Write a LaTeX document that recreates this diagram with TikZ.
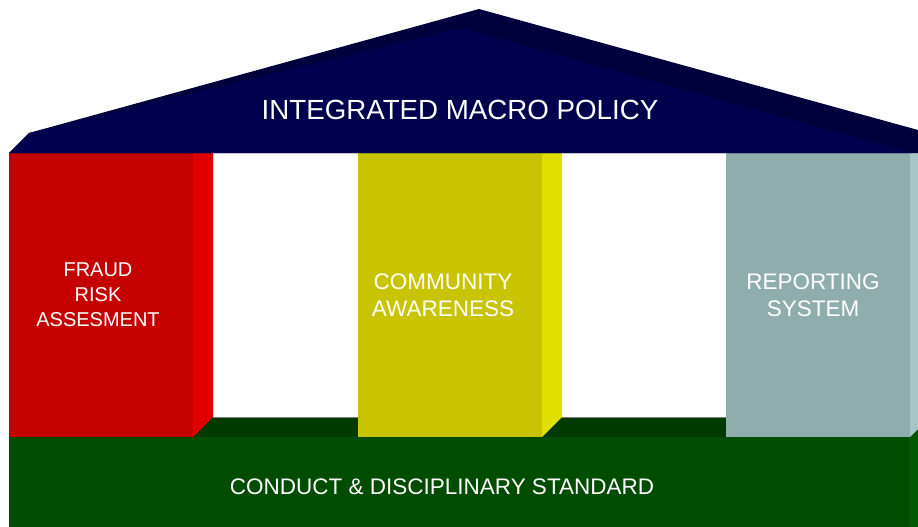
\documentclass[tikz,border=0pt]{standalone}
\usepackage{fontspec}
\setmainfont{Liberation Sans}
\definecolor{roofdark}{HTML}{00003C}
\definecolor{roofface}{HTML}{00004E}
\definecolor{redface}{HTML}{C40000}
\definecolor{redside}{HTML}{E00000}
\definecolor{yelface}{HTML}{C8C400}
\definecolor{yelside}{HTML}{E0E000}
\definecolor{grayface}{HTML}{8FADAD}
\definecolor{grayside}{HTML}{A8C6C8}
\definecolor{grnface}{HTML}{004C00}
\definecolor{grntop}{HTML}{003A00}
\definecolor{grnside}{HTML}{005800}
\tikzset{
  lbl/.style={text=white, align=center, inner sep=0pt, font=\fontsize{20}{25}\selectfont},
}
\begin{document}
\begin{tikzpicture}[x=1pt,y=-1pt]
\useasboundingbox (0,0) rectangle (918,527);
% base
\fill[grntop] (193,417) rectangle (918,437);
\draw[gray, line width=0.6pt] (213,417) -- (918,417);
\fill[grnface] (9,437) rectangle (909,527);
\fill[grnside] (909,437) -- (918,428) -- (918,527) -- (909,527) -- cycle;
% pillars
\fill[redside] (193,153) -- (213,153) -- (213,417) -- (193,437) -- cycle;
\fill[redface] (9,153) rectangle (193,437);
\fill[yelside] (542,153) -- (562,153) -- (562,417) -- (542,437) -- cycle;
\fill[yelface] (358,153) rectangle (542,437);
\fill[grayside] (910,153) -- (918,153) -- (918,429) -- (910,437) -- cycle;
\fill[grayface] (726,153) rectangle (910,437);
% roof
\fill[roofdark] (9,153) -- (29,133) -- (479,9) -- (918,130) -- (918,153) -- cycle;
\fill[roofface] (9,153) -- (29,133) -- (460,28) -- (912,153) -- cycle;
% labels
\node[lbl, font=\fontsize{27.7}{30}\selectfont] (roof) at (460,110) {INTEGRATED MACRO POLICY};
\node[lbl] (fraud) at (98,295) {FRAUD\\RISK\\ASSESMENT};
\node[lbl, font=\fontsize{22.5}{27}\selectfont] (comm) at (443,295) {COMMUNITY\\AWARENESS};
\node[lbl, font=\fontsize{22.5}{27}\selectfont] (rep) at (813,295) {REPORTING\\SYSTEM};
\node[lbl, font=\fontsize{22.5}{25}\selectfont] (base) at (442,487) {CONDUCT \& DISCIPLINARY STANDARD};
\end{tikzpicture}
\end{document}
